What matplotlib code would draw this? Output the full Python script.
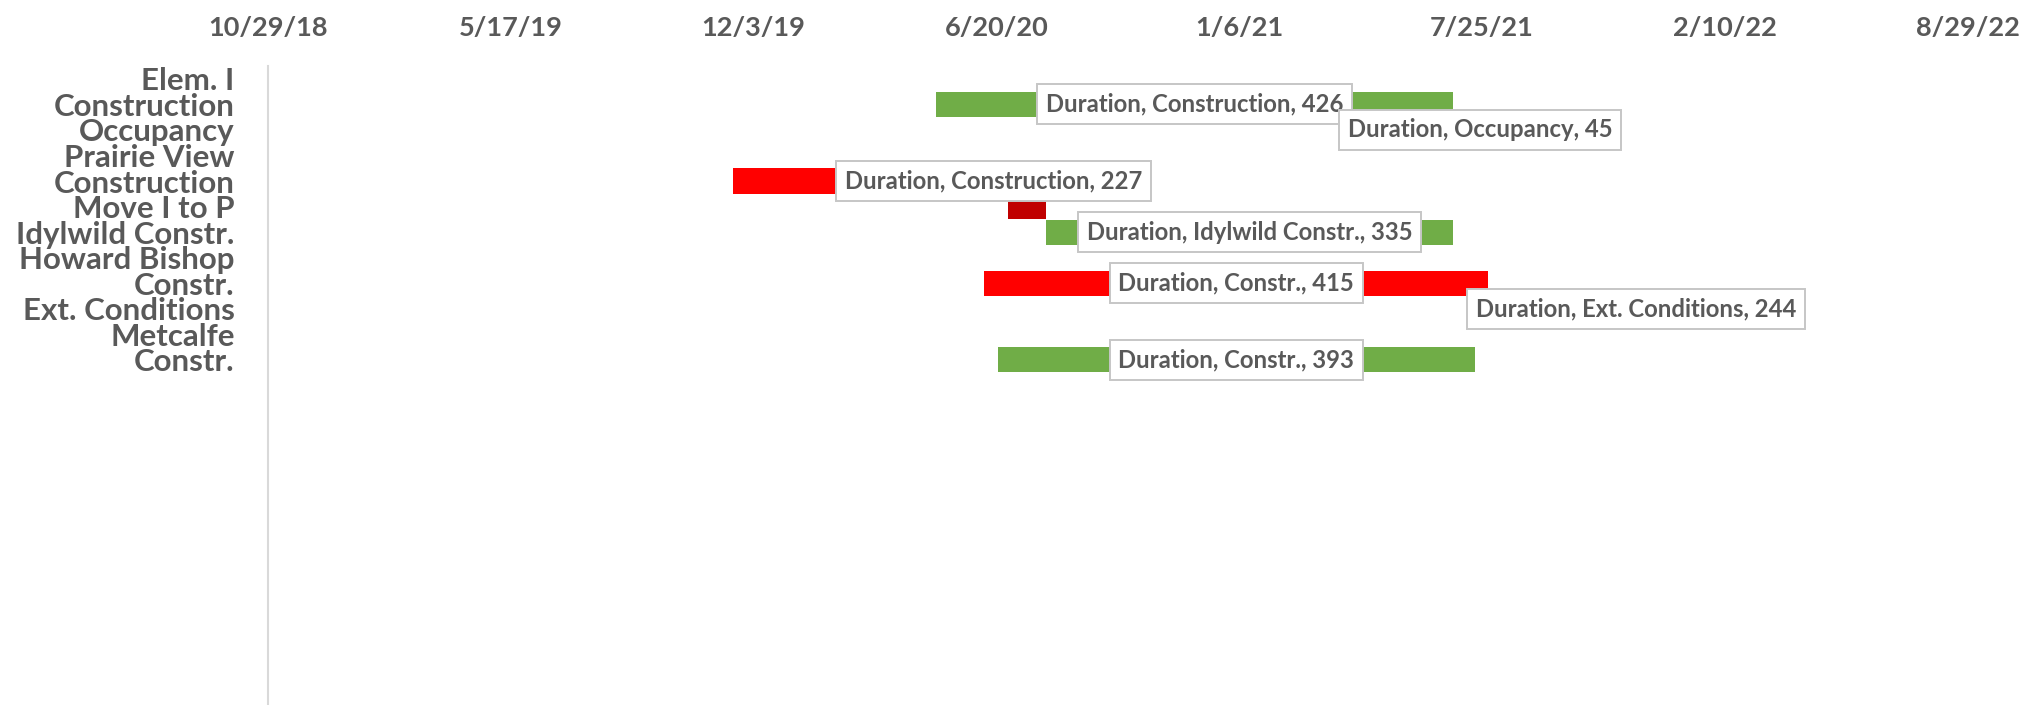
import datetime as dt
import matplotlib
matplotlib.use("Agg")
import matplotlib.pyplot as plt
import matplotlib.dates as mdates
from matplotlib.ticker import FuncFormatter, FixedLocator

plt.rcParams['font.family'] = ['Lato', 'DejaVu Sans']

# categories (one per row, rest of the axis is empty rows)
categories = ["Elem. I", "Construction", "Occupancy", "Prairie View", "Construction",
              "Move I to P", "Idylwild Constr.", "Howard Bishop", "Constr.",
              "Ext. Conditions", "Metcalfe", "Constr."]
n_rows = 25

# tasks
task_rows = [1, 2, 4, 5, 6, 8, 9, 11]
task_names = ["Construction", "Occupancy", "Construction", "Move I to P",
              "Idylwild Constr.", "Constr.", "Ext. Conditions", "Constr."]
task_start = ["2020-05-01", "2021-07-01", "2019-11-16", "2020-06-30",
              "2020-07-31", "2020-06-10", "2021-07-30", "2020-06-21"]
durations = [426, 45, 227, 31, 335, 415, 244, 393]
colors = ["#70AD47", "#70AD47", "#FF0000", "#C00000",
          "#70AD47", "#FF0000", "#FF0000", "#70AD47"]
show_label = [True, True, True, False, True, True, True, True]
label_shift = [0, 0, 101, 0, 0, 0, 0, 0]   # days, labels moved by hand

x_min = dt.date(2018, 10, 29)
x_max = dt.date(2022, 8, 29)
step = 200

txt_col = "#595959"

fig = plt.figure(figsize=(20.44, 7.05), dpi=100)
ax = fig.add_axes([268 / 2044, 0.0, (1967.5 - 268) / 2044, 1 - 66 / 705])

starts = [mdates.date2num(dt.date.fromisoformat(s)) for s in task_start]
ax.barh(task_rows, durations, left=starts, height=0.98, color=colors, zorder=2)

for i in range(len(task_rows)):
    if not show_label[i]:
        continue
    xc = starts[i] + durations[i] / 2 + label_shift[i]
    ax.text(xc, task_rows[i], f"Duration, {task_names[i]}, {durations[i]}",
            ha="center", va="center", fontsize=17.2, fontweight="bold", color=txt_col,
            zorder=3,
            bbox=dict(boxstyle="square,pad=0.36", fc="white", ec="#c6c6c6", lw=1.4))

ax.set_ylim(n_rows - 0.5, -0.5)
ax.set_yticks(range(len(categories)))
ax.set_yticklabels(categories, fontsize=22.5, fontweight="bold", color=txt_col)

x0 = mdates.date2num(x_min)
x1 = mdates.date2num(x_max)
ax.set_xlim(x0, x1)
ticks = [x0 + k * step for k in range(int((x1 - x0) // step) + 1)]
ax.xaxis.set_major_locator(FixedLocator(ticks))
def fmt(v, pos):
    d = mdates.num2date(v)
    return f"{d.month}/{d.day}/{d:%y}"
ax.xaxis.set_major_formatter(FuncFormatter(fmt))
ax.xaxis.tick_top()
ax.tick_params(axis="x", length=0, pad=19, labelsize=19.5, labelcolor=txt_col)
ax.tick_params(axis="y", length=0, pad=24)
for lab in ax.get_xticklabels():
    lab.set_fontweight("bold")

for s in ["top", "right", "bottom"]:
    ax.spines[s].set_visible(False)
ax.spines["left"].set_color("#d9d9d9")
ax.spines["left"].set_linewidth(1.5)

fig.savefig("out.png", dpi=100, facecolor="white")
